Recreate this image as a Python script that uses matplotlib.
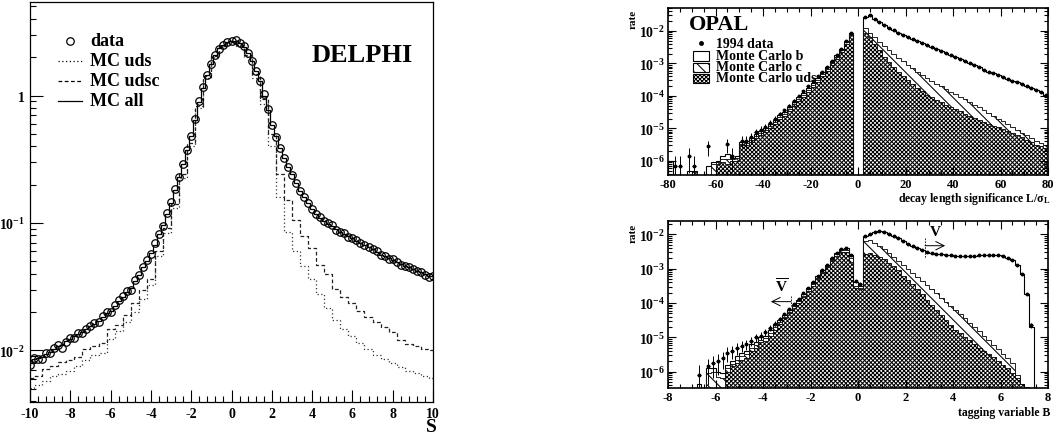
import numpy as np
import matplotlib
matplotlib.use('Agg')
import matplotlib.pyplot as plt
from matplotlib.ticker import MultipleLocator, FixedLocator, LogLocator, NullFormatter, FuncFormatter
from matplotlib.patches import Rectangle
from matplotlib.lines import Line2D

plt.rcParams['font.family'] = ['Liberation Serif', 'DejaVu Serif']
plt.rcParams['font.weight'] = 'bold'
plt.rcParams['mathtext.fontset'] = 'custom'
plt.rcParams['mathtext.rm'] = 'Liberation Serif:bold'
plt.rcParams['mathtext.bf'] = 'Liberation Serif:bold'
plt.rcParams['mathtext.it'] = 'Liberation Serif:italic:bold'
plt.rcParams['axes.unicode_minus'] = False
plt.rcParams['hatch.linewidth'] = 0.75

nan = np.nan

# ---------------- DELPHI (left) : log10 of the rate ----------------
s_first, s_step = -10.0, 0.2
delphi_data_log = [
    -2.115, -2.057, -2.068, -2.07, -2.023, -2.023, -1.984, -1.958, -1.979, -1.932,
    -1.906, -1.906, -1.862, -1.867, -1.836, -1.81, -1.784, -1.781, -1.729, -1.698,
    -1.698, -1.646, -1.607, -1.576, -1.536, -1.523, -1.45, -1.411, -1.346, -1.294,
    -1.242, -1.159, -1.086, -1.021, -0.924, -0.833, -0.734, -0.643, -0.534, -0.43,
    -0.318, -0.182, -0.044, 0.065, 0.164, 0.247, 0.315, 0.367, 0.398, 0.419,
    0.43, 0.432, 0.411, 0.385, 0.333, 0.268, 0.195, 0.112, 0.008, -0.109,
    -0.232, -0.323, -0.409, -0.487, -0.56, -0.622, -0.69, -0.747, -0.8, -0.844,
    -0.891, -0.93, -0.956, -0.982, -1.003, -1.016, -1.052, -1.068, -1.081, -1.107,
    -1.12, -1.138, -1.159, -1.177, -1.19, -1.203, -1.224, -1.255, -1.26, -1.281,
    -1.286, -1.307, -1.328, -1.339, -1.346, -1.359, -1.38, -1.385, -1.406, -1.424,
    -1.417]
delphi_mc_all_log = [
    -2.10, -2.07, -2.06, -2.05, -2.03, -2.01, -1.99, -1.97, -1.96, -1.93,
    -1.91, -1.89, -1.87, -1.86, -1.83, -1.81, -1.79, -1.77, -1.74, -1.71,
    -1.69, -1.65, -1.61, -1.58, -1.54, -1.51, -1.46, -1.41, -1.35, -1.30,
    -1.24, -1.17, -1.09, -1.02, -0.93, -0.84, -0.74, -0.64, -0.54, -0.43,
    -0.32, -0.19, -0.05, 0.06, 0.16, 0.25, 0.32, 0.37, 0.40, 0.42,
    0.43, 0.43, 0.41, 0.38, 0.33, 0.27, 0.19, 0.11, 0.0, -0.11,
    -0.23, -0.32, -0.41, -0.49, -0.56, -0.62, -0.69, -0.75, -0.80, -0.845,
    -0.89, -0.93, -0.96, -0.985, -1.005, -1.025, -1.05, -1.07, -1.085, -1.105,
    -1.12, -1.14, -1.16, -1.175, -1.19, -1.205, -1.225, -1.25, -1.26, -1.275,
    -1.29, -1.305, -1.325, -1.335, -1.345, -1.36, -1.375, -1.385, -1.40, -1.415,
    -1.42]
s_coarse_step = 0.4
delphi_udsc_log = [
    -2.22, -2.20, -2.15, -2.12, -2.09, -2.08, -2.05, -1.99, -1.97, -1.94,
    -1.83, -1.80, -1.72, -1.63, -1.53, -1.44, -1.22, -1.04, -0.85, -0.62,
    -0.37, -0.08, 0.15, 0.31, 0.39, 0.42, 0.40, 0.32, 0.17, -0.03,
    -0.30, -0.62, -0.82, -0.98, -1.10, -1.20, -1.33, -1.40, -1.52, -1.58,
    -1.63, -1.69, -1.74, -1.78, -1.82, -1.86, -1.92, -1.95, -1.97, -1.99,
    -2.00]
delphi_uds_log = [
    -2.30, -2.27, -2.24, -2.20, -2.19, -2.16, -2.12, -2.08, -2.04, -2.02,
    -1.91, -1.85, -1.78, -1.70, -1.60, -1.49, -1.26, -1.08, -0.88, -0.65,
    -0.40, -0.10, 0.14, 0.30, 0.39, 0.42, 0.39, 0.30, 0.14, -0.07,
    -0.40, -0.80, -1.07, -1.22, -1.34, -1.44, -1.56, -1.67, -1.76, -1.83,
    -1.89, -1.94, -1.99, -2.04, -2.07, -2.10, -2.13, -2.16, -2.18, -2.20,
    -2.22]

# ---------------- OPAL top : decay length significance (log10 rate) ----------------
L_lo, L_hi, L_bin = -80, 80, 2
L_all_log = [
    -6.0, nan, nan, nan, -6.3, -6.3, nan, nan, -6.15, -6.05,
    -6.0, -5.85, -5.8, -5.9, -5.85, -5.42, -5.40, -5.30, -5.18, -5.08,
    -4.98, -4.86, -4.74, -4.6, -4.5, -4.35, -4.2, -4.05, -3.9, -3.75,
    -3.6, -3.45, -3.28, -3.12, -2.93, -2.75, -2.55, -2.3, -2.07, nan,
    nan, -1.56, -1.52, -1.62, -1.72, -1.82, -1.90, -1.98, -2.05, -2.12,
    -2.19, -2.26, -2.32, -2.38, -2.44, -2.50, -2.57, -2.63, -2.69, -2.75,
    -2.81, -2.87, -2.93, -2.99, -3.06, -3.12, -3.19, -3.25, -3.31, -3.37,
    -3.43, -3.48, -3.53, -3.58, -3.64, -3.69, -3.76, -3.82, -3.88, -3.97]
L_udsc_log = [
    nan, nan, nan, nan, nan, -6.35, nan, nan, nan, -6.1,
    -6.05, -5.95, -5.95, -5.95, -5.9, -5.47, -5.45, -5.36, -5.24, -5.14,
    -5.04, -4.92, -4.8, -4.66, -4.56, -4.41, -4.26, -4.11, -3.96, -3.81,
    -3.66, -3.51, -3.34, -3.18, -2.99, -2.8, -2.6, -2.35, -2.1, nan,
    nan, -1.9, -2.05, -2.2, -2.33, -2.45, -2.58, -2.7, -2.82, -2.94,
    -3.05, -3.15, -3.25, -3.35, -3.45, -3.55, -3.63, -3.71, -3.79, -3.87,
    -3.95, -4.03, -4.11, -4.19, -4.27, -4.35, -4.44, -4.53, -4.61, -4.70,
    -4.78, -4.87, -4.95, -5.04, -5.13, -5.22, -5.30, -5.38, -5.45, -5.50]
L_uds_log = [
    nan, nan, nan, nan, nan, nan, nan, nan, nan, nan,
    -6.1, -6.05, -6.1, -6.0, -6.0, -5.5, -5.5, -5.42, -5.3, -5.2,
    -5.1, -4.98, -4.86, -4.72, -4.62, -4.47, -4.32, -4.17, -4.02, -3.87,
    -3.72, -3.57, -3.4, -3.24, -3.05, -2.86, -2.65, -2.4, -2.13, nan,
    nan, -2.05, -2.2, -2.4, -2.6, -2.8, -2.95, -3.1, -3.25, -3.4,
    -3.52, -3.64, -3.76, -3.86, -3.96, -4.04, -4.12, -4.2, -4.27, -4.34,
    -4.41, -4.48, -4.55, -4.62, -4.68, -4.74, -4.8, -4.86, -4.92, -4.97,
    -5.03, -5.09, -5.15, -5.22, -5.28, -5.35, -5.42, -5.5, -5.55, -5.6]
L_data_log = [
    nan, -6.15, -6.15, nan, -5.85, -6.15, nan, nan, -5.55, nan,
    nan, nan, -5.48, -5.84, nan, -5.38, -5.38, -5.28, -5.12, -5.05,
    -4.95, -4.82, -4.70, -4.55, -4.45, -4.30, -4.15, -4.00, -3.85, -3.70,
    -3.55, -3.40, -3.25, -3.10, -2.92, -2.74, -2.55, -2.30, -2.07, nan,
    nan, -1.56, -1.52, -1.62, -1.72, -1.82, -1.90, -1.98, -2.05, -2.12,
    -2.19, -2.26, -2.32, -2.38, -2.44, -2.50, -2.57, -2.63, -2.69, -2.75,
    -2.81, -2.87, -2.93, -2.99, -3.06, -3.12, -3.19, -3.25, -3.31, -3.37,
    -3.43, -3.48, -3.53, -3.58, -3.64, -3.69, -3.76, -3.82, -3.88, -3.97]

# ---------------- OPAL bottom : tagging variable B (log10 rate) ----------------
B_lo, B_hi, B_bin = -8.0, 8.0, 0.2
B_all_log = [
    nan, nan, nan, nan, nan, nan, -6.35, nan, -5.9, -5.9,
    -6.0, -6.05, -5.8, -5.7, -5.55, -5.45, -5.4, -5.2, -5.15, -5.0,
    -4.95, -4.8, -4.62, -4.5, -4.35, -4.2, -4.05, -3.9, -3.75, -3.55,
    -3.4, -3.22, -3.05, -2.88, -2.7, -2.55, -2.42, -2.4, -2.6, -3.4,
    -3.5, -2.05, -1.98, -1.92, -1.9, -1.92, -1.98, -2.05, -2.12, -2.2,
    -2.28, -2.35, -2.4, -2.45, -2.5, -2.53, -2.56, -2.58, -2.6, -2.61,
    -2.62, -2.63, -2.63, -2.62, -2.62, -2.61, -2.6, -2.6, -2.6, -2.61,
    -2.63, -2.68, -2.75, -2.88, -3.15, -3.75, -4.7, nan, nan, nan]
B_udsc_log = [
    nan, nan, nan, nan, nan, nan, nan, nan, -6.05, -6.0,
    -6.15, -6.2, -5.9, -5.78, -5.65, -5.55, -5.5, -5.3, -5.22, -5.08,
    -5.02, -4.88, -4.7, -4.56, -4.4, -4.25, -4.1, -3.95, -3.8, -3.6,
    -3.45, -3.26, -3.09, -2.92, -2.74, -2.58, -2.46, -2.45, -2.7, -3.5,
    -3.55, -2.2, -2.15, -2.25, -2.35, -2.42, -2.55, -2.66, -2.78, -2.9,
    -3.0, -3.12, -3.24, -3.36, -3.48, -3.6, -3.72, -3.84, -3.96, -4.08,
    -4.2, -4.32, -4.45, -4.57, -4.7, -4.83, -4.96, -5.08, -5.22, -5.35,
    -5.48, -5.6, -5.75, -6.1, -6.35, -6.45, nan, nan, nan, nan]
B_uds_log = [
    nan, nan, nan, nan, nan, nan, nan, nan, nan, nan,
    nan, nan, -6.0, -5.85, -5.75, -5.65, -5.6, -5.4, -5.3, -5.15,
    -5.1, -4.95, -4.8, -4.62, -4.45, -4.3, -4.15, -4.0, -3.83, -3.65,
    -3.5, -3.3, -3.13, -2.96, -2.78, -2.62, -2.52, -2.52, -2.8, -3.55,
    -3.6, -2.56, -2.55, -2.6, -2.65, -2.72, -2.82, -2.92, -3.05, -3.2,
    -3.32, -3.45, -3.6, -3.75, -3.9, -4.05, -4.2, -4.35, -4.5, -4.65,
    -4.78, -4.88, -4.98, -5.08, -5.2, -5.3, -5.4, -5.48, -5.58, -5.7,
    -5.8, -5.9, -6.05, -6.2, -6.35, -6.45, nan, nan, nan, nan]
B_data_log = [
    nan, nan, nan, nan, nan, nan, -6.1, nan, -5.85, -5.75,
    -5.7, -5.6, -5.45, -5.4, -5.3, -5.25, -5.2, -5.1, -5.0, -4.95,
    -4.85, -4.72, -4.6, -4.48, -4.33, -4.18, -4.03, -3.88, -3.72, -3.55,
    -3.4, -3.22, -3.05, -2.88, -2.7, -2.55, -2.43, -2.41, -2.6, -3.35,
    -3.45, -2.05, -1.98, -1.92, -1.9, -1.92, -1.98, -2.05, -2.12, -2.2,
    -2.28, -2.35, -2.4, -2.45, -2.5, -2.53, -2.56, -2.58, -2.6, -2.61,
    -2.62, -2.63, -2.63, -2.62, -2.62, -2.61, -2.6, -2.6, -2.6, -2.61,
    -2.63, -2.68, -2.75, -2.88, -3.15, -3.75, -4.65, nan, nan, nan]
one_event_rate = 7e-7   # rate corresponding to a single event (sets error bar size)
v_cut, vbar_cut = 2.82, -2.82

UDS_HATCH = 'xxxxxxxx'
C_HATCH = '\\\\\\'

# ---------------- figure ----------------
W, H = 1055, 435
fig = plt.figure(figsize=(W / 100, H / 100), dpi=100)


def frac(x0, y0, x1, y1):
    return [x0 / W, 1 - y1 / H, (x1 - x0) / W, (y1 - y0) / H]


def fpt(x, y):
    return (x / W, 1 - y / H)


def rate(lst):
    a = np.array(lst, dtype=float)
    return np.where(np.isnan(a), 1e-12, 10.0 ** a)


# ---------- DELPHI ----------
ax1 = fig.add_axes(frac(30, 3, 433, 403))
s_fine = s_first + s_step * np.arange(len(delphi_data_log))
s_coarse = s_first + s_coarse_step * np.arange(len(delphi_uds_log))
ax1.step(s_coarse, rate(delphi_uds_log), where='mid', color='#333333', lw=0.9, ls=(0, (1, 2)))
ax1.step(s_coarse, rate(delphi_udsc_log), where='mid', color='#222222', lw=0.9, ls=(0, (3, 2)))
ax1.step(s_fine, rate(delphi_mc_all_log), where='mid', color='k', lw=0.9)
ax1.plot(s_fine, rate(delphi_data_log), 'o', mfc='none', mec='k', ms=5.4, mew=0.9)
ax1.set_yscale('log')
ax1.set_xlim(-10, 10)
ax1.set_ylim(10 ** -2.406, 10 ** 0.734)
ax1.xaxis.set_major_locator(MultipleLocator(2))
ax1.xaxis.set_minor_locator(MultipleLocator(0.4))
ax1.yaxis.set_major_locator(FixedLocator([1e-2, 1e-1, 1]))
ax1.yaxis.set_major_formatter(FuncFormatter(
    lambda v, p: '1' if abs(v - 1) < 1e-9 else r'$\mathbf{10^{%d}}$' % round(np.log10(v))))
ax1.yaxis.set_minor_locator(LogLocator(base=10, subs=np.arange(2, 10), numticks=20))
ax1.yaxis.set_minor_formatter(NullFormatter())
ax1.tick_params(which='both', direction='in', labelsize=10, width=0.8)
ax1.tick_params(which='major', length=9)
ax1.tick_params(which='minor', length=4.5)
ax1.set_xticks([-10, -8, -6, -4, -2, 0, 2, 4, 6, 8, 10])
ax1.set_xticklabels([str(v) for v in [-10, -8, -6, -4, -2, 0, 2, 4, 6, 8, 10]])
for sp in ax1.spines.values():
    sp.set_linewidth(0.9)

fig.text(*fpt(312, 55), 'DELPHI', fontsize=19, fontweight='bold', va='center', ha='left')
fig.text(*fpt(431, 428), 'S', fontsize=14, fontweight='bold', va='center', ha='center')
# legend
fig.add_artist(Line2D([fpt(70, 42)[0]], [fpt(70, 42)[1]], transform=fig.transFigure,
                      marker='o', mfc='none', mec='k', ms=5.4, mew=0.9, ls='none'))
leg_styles = [((0, (1, 2)), 'MC uds', 62), ((0, (3, 2)), 'MC udsc', 82), ('-', 'MC all', 102)]
fig.text(*fpt(90, 42), 'data', fontsize=13, fontweight='bold', va='center')
for ls, lab, yy in leg_styles:
    fig.add_artist(Line2D([58 / W, 82 / W], [1 - yy / H, 1 - yy / H], transform=fig.transFigure,
                          color='k', lw=0.9, ls=ls))
    fig.text(*fpt(90, yy), lab, fontsize=13, fontweight='bold', va='center')


# ---------- OPAL common ----------
def opal_axes(ax, edges, all_log, udsc_log, uds_log, data_log, xlim, ylim, xmaj, xmin):
    ax.stairs(rate(all_log), edges, baseline=1e-12, fill=True, facecolor='white',
              edgecolor='k', lw=0.8)
    ax.stairs(rate(udsc_log), edges, baseline=1e-12, fill=True, facecolor='white',
              edgecolor='k', hatch=C_HATCH, lw=0.6)
    ax.stairs(rate(uds_log), edges, baseline=1e-12, fill=True, facecolor='white',
              edgecolor='k', hatch=UDS_HATCH, lw=0.6)
    centers = 0.5 * (edges[:-1] + edges[1:])
    d = np.array(data_log, dtype=float)
    m = ~np.isnan(d)
    v = 10.0 ** d[m]
    err = np.sqrt(v * one_event_rate)
    lo = np.minimum(err, v * 0.999)
    ax.errorbar(centers[m], v, yerr=[lo, err], xerr=0.5 * (edges[1] - edges[0]) * 0.7,
                fmt='o', ms=1.8, color='k', elinewidth=0.7, capsize=0)
    ax.set_yscale('log')
    ax.set_xlim(*xlim)
    ax.set_ylim(*ylim)
    ax.xaxis.set_major_locator(MultipleLocator(xmaj))
    ax.xaxis.set_minor_locator(MultipleLocator(xmin))
    ax.yaxis.set_major_locator(FixedLocator([1e-2, 1e-3, 1e-4, 1e-5, 1e-6]))
    ax.yaxis.set_major_formatter(FuncFormatter(lambda v, p: r'$\mathbf{10^{%d}}$' % round(np.log10(v))))
    ax.yaxis.set_minor_locator(LogLocator(base=10, subs=np.arange(2, 10), numticks=20))
    ax.yaxis.set_minor_formatter(NullFormatter())
    ax.tick_params(which='both', direction='in', top=True, right=True, width=0.8)
    ax.tick_params(which='major', length=6)
    ax.tick_params(which='minor', length=3)
    ax.tick_params(axis='x', labelsize=9, pad=2)
    ax.tick_params(axis='y', labelsize=10, pad=2)
    for sp in ax.spines.values():
        sp.set_linewidth(1.2)


ax2 = fig.add_axes(frac(668, 9, 1048, 176))
edges_L = np.arange(L_lo, L_hi + L_bin / 2, L_bin)
opal_axes(ax2, edges_L, L_all_log, L_udsc_log, L_uds_log, L_data_log,
          (L_lo, L_hi), (10 ** -6.436, 10 ** -1.295), 20, 5)
ax2.set_xticks([-80, -60, -40, -20, 0, 20, 40, 60, 80])
ax2.set_xticklabels(['-80', '-60', '-40', '-20', '0', '20', '40', '60', '80'])

ax3 = fig.add_axes(frac(668, 222, 1048, 389))
edges_B = np.round(np.arange(B_lo, B_hi + B_bin / 2, B_bin), 3)
opal_axes(ax3, edges_B, B_all_log, B_udsc_log, B_uds_log, B_data_log,
          (B_lo, B_hi), (10 ** -6.477, 10 ** -1.61), 2, 0.5)
ax3.set_xticks([-8, -6, -4, -2, 0, 2, 4, 6, 8])
ax3.set_xticklabels(['-8', '-6', '-4', '-2', '0', '2', '4', '6', '8'])

# V annotations
ax3.plot([v_cut, v_cut], [10 ** -2.12, 10 ** -2.68], ls=(0, (2, 1.5)), color='k', lw=0.6)
ax3.annotate('', xy=(v_cut + 0.85, 10 ** -2.33), xytext=(v_cut, 10 ** -2.33),
             arrowprops=dict(arrowstyle='->,head_length=0.6,head_width=0.3', lw=0.7, color='k',
                             shrinkA=0, shrinkB=0))
ax3.text(v_cut + 0.42, 10 ** -2.12, 'V', fontsize=11, fontweight='bold', ha='center', va='bottom')
ax3.plot([vbar_cut, vbar_cut], [10 ** -3.8, 10 ** -4.1], ls=(0, (2, 1.5)), color='k', lw=0.6)
ax3.annotate('', xy=(vbar_cut - 0.85, 10 ** -3.96), xytext=(vbar_cut, 10 ** -3.96),
             arrowprops=dict(arrowstyle='->,head_length=0.6,head_width=0.3', lw=0.7, color='k',
                             shrinkA=0, shrinkB=0))
ax3.text(vbar_cut - 0.42, 10 ** -3.75, r'$\mathbf{\overline{V}}$', fontsize=11, ha='center', va='bottom')

# labels
fig.text(*fpt(633, 10), 'rate', fontsize=8, rotation=90, ha='center', va='top')
fig.text(*fpt(633, 224), 'rate', fontsize=8, rotation=90, ha='center', va='top')
fig.text(*fpt(1050, 199), r'decay length significance L/σ$_{\mathbf{L}}$', fontsize=8.5,
         ha='right', va='center')
fig.text(*fpt(1050, 413), 'tagging variable B', fontsize=8.5, ha='right', va='center')

# OPAL legend
fig.text(*fpt(689, 25), 'OPAL', fontsize=16, fontweight='bold', va='center', ha='left')
fig.add_artist(Line2D([fpt(701, 44)[0]], [fpt(701, 44)[1]], transform=fig.transFigure,
                      marker='o', color='k', ms=2.5, ls='none'))
fig.text(*fpt(716, 44), '1994 data', fontsize=10, va='center')
for hatch, lab, yy in [(None, 'Monte Carlo b', 57), (C_HATCH, 'Monte Carlo c', 68),
                       (UDS_HATCH, 'Monte Carlo uds', 79)]:
    r = Rectangle(fpt(693, yy + 4.5), 16 / W, 9 / H, transform=fig.transFigure,
                  facecolor='white', edgecolor='k', lw=0.8, hatch=hatch)
    fig.add_artist(r)
    fig.text(*fpt(716, yy), lab, fontsize=10, va='center')

fig.savefig('out.png', dpi=100, facecolor='white')
